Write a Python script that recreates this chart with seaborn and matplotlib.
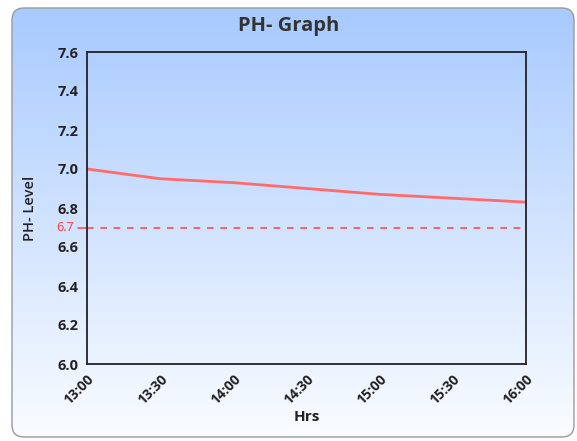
import numpy as np
import pandas as pd
import matplotlib
matplotlib.use("Agg")
import matplotlib.pyplot as plt
import seaborn as sns
from matplotlib.patches import FancyBboxPatch
from matplotlib.transforms import blended_transform_factory

# chart data
hours = ["13:00", "13:30", "14:00", "14:30", "15:00", "15:30", "16:00"]
ph_level = [7.00, 6.95, 6.93, 6.90, 6.87, 6.85, 6.83]
threshold = 6.7
y_ticks = [6.0, 6.2, 6.4, 6.6, 6.8, 7.0, 7.2, 7.4, 7.6]

sns.set_theme(style="white")
plt.rcParams['font.family'] = ['Open Sans', 'DejaVu Sans']

fig = plt.figure(figsize=(5.77, 4.41), dpi=100)
fig.patch.set_facecolor("white")

# background card with vertical gradient
bg = fig.add_axes([0, 0, 1, 1], zorder=0)
bg.set_xlim(0, 577)
bg.set_ylim(441, 0)
bg.axis("off")
top = np.array([168, 202, 255]) / 255
bottom = np.array([250, 252, 255]) / 255
t = np.linspace(0, 1, 256)[:, None]
grad = (top * (1 - t) + bottom * t)[:, None, :]
card = FancyBboxPatch((12, 8), 562, 429, boxstyle="round,pad=0,rounding_size=12",
                      facecolor="none", edgecolor="#9a9a9a", linewidth=1.0)
bg.add_patch(card)
img = bg.imshow(grad, extent=(12, 574, 437, 8), aspect="auto", zorder=0)
img.set_clip_path(card)

ax = fig.add_axes([87 / 577, 1 - 364 / 441, (526 - 87) / 577, (364 - 52) / 441], zorder=1)
ax.patch.set_alpha(0)

df = pd.DataFrame({"Hrs": hours, "PH": ph_level})
sns.lineplot(data=df, x="Hrs", y="PH", ax=ax, color="#ff6b6b", linewidth=2)

ax.axhline(threshold, color="#ff4d4d", linestyle=(0, (4, 4)), linewidth=1.2)
trans = blended_transform_factory(ax.transAxes, ax.transData)
ax.plot([-0.02, 0], [threshold, threshold], color="#ff4d4d", linewidth=1.2,
        transform=trans, clip_on=False)
ax.text(-0.03, threshold, "6.7", color="#ff3333", fontsize=9, ha="right", va="center",
        transform=trans)

ax.set_xlim(0, len(hours) - 1)
ax.set_ylim(6.0, 7.6)
ax.set_yticks(y_ticks)
ax.set_yticklabels([f"{v:.1f}" for v in y_ticks], fontweight="bold", fontsize=10.5, color="#222222")
ax.set_xticks(range(len(hours)))
ax.set_xticklabels(hours, rotation=45, ha="right", rotation_mode="anchor",
                   fontweight="bold", fontsize=10, color="#222222")
ax.tick_params(axis="both", length=0, pad=6)

for s in ax.spines.values():
    s.set_color("#222222")
    s.set_linewidth(1.3)

ax.set_xlabel("Hrs", fontweight="bold", fontsize=11, color="#222222", labelpad=2)
ax.set_ylabel("PH- Level", fontweight="semibold", fontsize=10.5, color="#222222")
ax.yaxis.set_label_coords(-0.114, 0.5)
fig.text(0.5, 1 - 26 / 441, "PH- Graph", ha="center", va="center",
         fontsize=14.5, fontweight="bold", color="#333333")

fig.savefig("out.png", dpi=100)
